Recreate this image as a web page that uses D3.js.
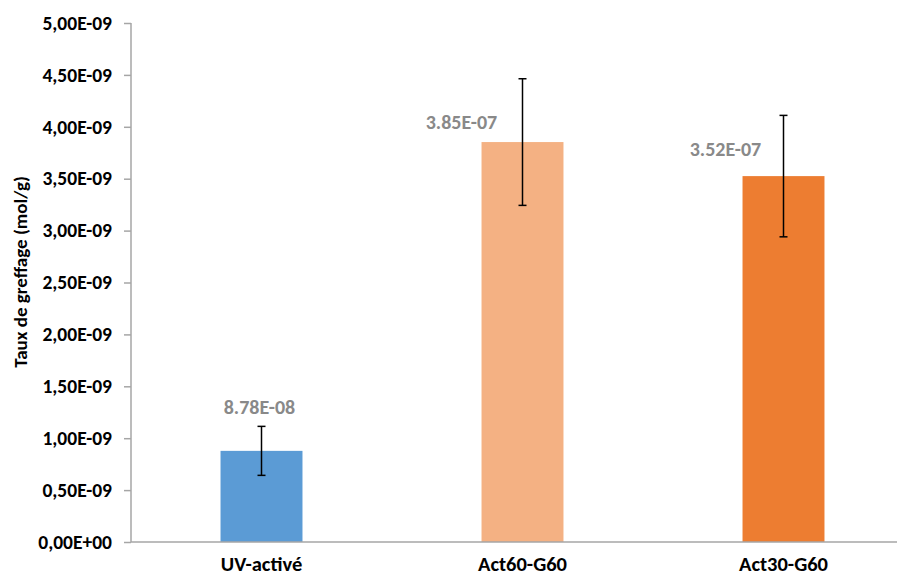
<!DOCTYPE html>
<html><head><meta charset="utf-8">
<script src="https://cdn.jsdelivr.net/npm/d3@7"></script>
<style>body{margin:0;background:#fff}svg{display:block}</style>
</head><body>
<svg id="c" width="900" height="577"></svg>
<script>
const categories = ["UV-activé", "Act60-G60", "Act30-G60"];
const values = [0.878e-9, 3.853e-9, 3.525e-9];
const errors = [0.236e-9, 0.61e-9, 0.585e-9];
const valueLabels = ["8.78E-08", "3.85E-07", "3.52E-07"];
const colors = ["#5B9BD5", "#F4B183", "#ED7D31"];
const tickValues = [0, 0.5e-9, 1e-9, 1.5e-9, 2e-9, 2.5e-9, 3e-9, 3.5e-9, 4e-9, 4.5e-9, 5e-9];
const tickLabels = ["0,00E+00","0,50E-09","1,00E-09","1,50E-09","2,00E-09","2,50E-09","3,00E-09","3,50E-09","4,00E-09","4,50E-09","5,00E-09"];
const yTitle = "Taux de greffage (mol/g)";

const font = "Carlito, Calibri, 'Liberation Sans', Arial, sans-serif";
const svg = d3.select("#c");
const x0 = 131, x1 = 914, yTop = 23, yBot = 542;
const x = d3.scaleBand().domain(categories).range([x0, x1]).padding(0);
const y = d3.scaleLinear().domain([0, 5e-9]).range([yBot, yTop]);
const barW = x.bandwidth() * 0.314;

// y axis
const yAxis = d3.axisLeft(y).tickValues(tickValues).tickSize(7).tickPadding(12)
  .tickFormat((d, i) => tickLabels[i]);
const gy = svg.append("g").attr("transform", `translate(${x0},0)`).call(yAxis);
gy.select(".domain").attr("stroke", "#a6a6a6").attr("stroke-width", 1.5).attr("d", `M0,${yTop}V${yBot}`);
gy.selectAll(".tick line").attr("stroke", "#a6a6a6").attr("stroke-width", 1.5);
gy.selectAll(".tick text").attr("font-family", font).attr("font-size", 19.5).attr("font-weight", "bold").attr("fill", "#000");

// bars
svg.selectAll("rect.bar").data(categories).join("rect").attr("class", "bar")
  .attr("x", d => x(d) + x.bandwidth() / 2 - barW / 2)
  .attr("width", barW)
  .attr("y", (d, i) => y(values[i]))
  .attr("height", (d, i) => yBot - y(values[i]))
  .attr("fill", (d, i) => colors[i]);

// x axis line
svg.append("line").attr("x1", x0).attr("x2", 897).attr("y1", yBot).attr("y2", yBot)
  .attr("stroke", "#a6a6a6").attr("stroke-width", 1.5);

// error bars
const eb = svg.selectAll("g.err").data(categories).join("g").attr("class", "err")
  .attr("stroke", "#000").attr("stroke-width", 1.5);
eb.append("line").attr("x1", d => x(d) + x.bandwidth() / 2).attr("x2", d => x(d) + x.bandwidth() / 2)
  .attr("y1", (d, i) => y(values[i] + errors[i])).attr("y2", (d, i) => y(values[i] - errors[i]));
eb.append("line").attr("x1", d => x(d) + x.bandwidth() / 2 - 4).attr("x2", d => x(d) + x.bandwidth() / 2 + 4)
  .attr("y1", (d, i) => y(values[i] + errors[i])).attr("y2", (d, i) => y(values[i] + errors[i]));
eb.append("line").attr("x1", d => x(d) + x.bandwidth() / 2 - 4).attr("x2", d => x(d) + x.bandwidth() / 2 + 4)
  .attr("y1", (d, i) => y(values[i] - errors[i])).attr("y2", (d, i) => y(values[i] - errors[i]));

// value labels
const labelDx = [-2, -61, -58];
const labelDy = [-37, -13, -20];
svg.selectAll("text.vl").data(categories).join("text").attr("class", "vl")
  .attr("x", (d, i) => x(d) + x.bandwidth() / 2 + labelDx[i])
  .attr("y", (d, i) => y(values[i]) + labelDy[i])
  .attr("text-anchor", "middle").attr("font-family", font).attr("font-size", 20)
  .attr("font-weight", "bold").attr("fill", "#898989")
  .text((d, i) => valueLabels[i]);

// category labels
svg.selectAll("text.cat").data(categories).join("text").attr("class", "cat")
  .attr("x", d => x(d) + x.bandwidth() / 2).attr("y", 571)
  .attr("text-anchor", "middle").attr("font-family", font).attr("font-size", 20.5)
  .attr("font-weight", "bold").attr("fill", "#000").text(d => d);

// y title
svg.append("text").attr("transform", "translate(27,272) rotate(-90)")
  .attr("text-anchor", "middle").attr("font-family", font).attr("font-size", 19)
  .attr("font-weight", "bold").attr("fill", "#000").text(yTitle);
</script>
</body></html>
